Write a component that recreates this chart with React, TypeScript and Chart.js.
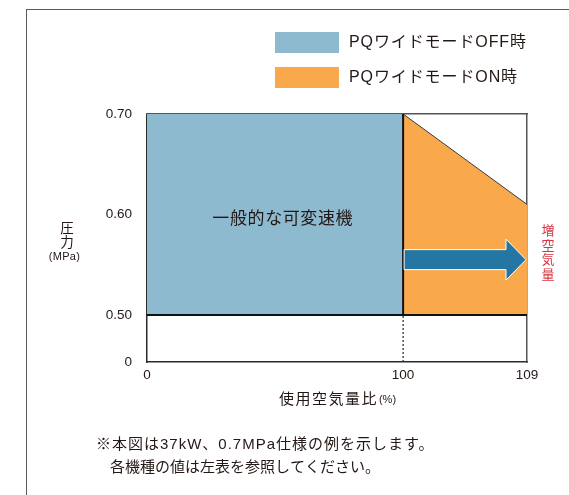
import React, { useEffect, useRef } from 'react';
import { Chart, registerables, LinearScale } from 'chart.js';

// ---- data ----
const FLOW_TICKS = [0, 100, 109];
const PRESSURE_TICKS = [0, 0.5, 0.6, 0.7];
const PRESSURE_TICK_LABELS = ['0', '0.50', '0.60', '0.70'];

const OFF_FLOW = [0, 100];
const OFF_PRESSURE = [0.7, 0.7];
const ON_FLOW = [100, 109];
const ON_PRESSURE = [0.7, 0.61];
const BASE_PRESSURE = 0.5;
const ARROW_FLOW = [100, 109];
const ARROW_PRESSURE = 0.555;

const SERIES_LABELS = ['PQワイドモードOFF時', 'PQワイドモードON時'];
const SERIES_COLORS = ['#8EBACF', '#F9A84B'];
const AREA_LABEL = '一般的な可変速機';
const AREA_LABEL_AT = { x: 53, y: 0.595 };
const GAIN_LABEL = '増空気量';
const X_TITLE = '使用空気量比';
const X_TITLE_UNIT = '(%)';
const Y_TITLE = ['圧', '力'];
const Y_TITLE_UNIT = '(MPa)';
const NOTES = [
  '※本図は37kW、0.7MPa仕様の例を示します。',
  '各機種の値は左表を参照してください。',
];

// ---- styling ----
const FONT = "'Liberation Sans', 'Noto Sans CJK JP', sans-serif";
const INK = '#231815';
const ARROW_COLOR = '#2577A3';
const GAIN_COLOR = '#D7353F';

// Piecewise-linear axes: each stop maps a value to a fraction of the axis length,
// so the compressed 0–0.50 MPa band and the 100–109 % band get their own spans.
const AXIS_STOPS: Record<string, [number, number][]> = {
  x: [[0, 0], [100, 0.674], [109, 1]],
  y: [[0, 0], [0.5, 0.19], [0.7, 1]],
};

function mapStops(stops: [number, number][], v: number, from: 0 | 1, to: 0 | 1) {
  let i = 0;
  while (i < stops.length - 2 && v > stops[i + 1][from]) i++;
  const a = stops[i];
  const b = stops[i + 1];
  const t = (v - a[from]) / (b[from] - a[from]);
  return a[to] + t * (b[to] - a[to]);
}

class SegmentedScale extends LinearScale {
  static id = 'segmented';
  static defaults = { ...(LinearScale as any).defaults };
  getPixelForValue(value: number) {
    if (value === null || value === undefined || isNaN(value)) return NaN;
    const stops = AXIS_STOPS[(this as any).id];
    return this.getPixelForDecimal(mapStops(stops, value, 0, 1));
  }
  getValueForPixel(pixel: number) {
    const stops = AXIS_STOPS[(this as any).id];
    return mapStops(stops, this.getDecimalForPixel(pixel), 1, 0);
  }
}

Chart.register(...registerables, SegmentedScale as any);

function drawText(
  ctx: CanvasRenderingContext2D,
  str: string,
  x: number,
  y: number,
  size: number,
  color: string,
  align: CanvasTextAlign = 'left',
  spacing = 0,
) {
  ctx.save();
  ctx.font = `${size}px ${FONT}`;
  ctx.fillStyle = color;
  ctx.textAlign = align;
  ctx.textBaseline = 'middle';
  (ctx as any).letterSpacing = `${spacing}px`;
  ctx.fillText(str, x, y);
  ctx.restore();
}

function measure(ctx: CanvasRenderingContext2D, str: string, size: number, spacing = 0) {
  ctx.save();
  ctx.font = `${size}px ${FONT}`;
  (ctx as any).letterSpacing = `${spacing}px`;
  const w = ctx.measureText(str).width;
  ctx.restore();
  return w;
}

const arrowPlugin = {
  id: 'gainArrow',
  afterDatasetsDraw(chart: any) {
    const { ctx, scales } = chart;
    const x0 = scales.x.getPixelForValue(ARROW_FLOW[0]) + 1;
    const x1 = scales.x.getPixelForValue(ARROW_FLOW[1]) - 1;
    const yc = scales.y.getPixelForValue(ARROW_PRESSURE);
    const shaft = 10;
    const head = 20.5;
    const headLen = 20;
    ctx.save();
    ctx.beginPath();
    ctx.moveTo(x0, yc - shaft);
    ctx.lineTo(x1 - headLen, yc - shaft);
    ctx.lineTo(x1 - headLen, yc - head);
    ctx.lineTo(x1, yc);
    ctx.lineTo(x1 - headLen, yc + head);
    ctx.lineTo(x1 - headLen, yc + shaft);
    ctx.lineTo(x0, yc + shaft);
    ctx.closePath();
    ctx.fillStyle = ARROW_COLOR;
    ctx.fill();
    ctx.strokeStyle = '#ffffff';
    ctx.lineWidth = 1;
    ctx.stroke();
    ctx.restore();
  },
};

const labelsPlugin = {
  id: 'chartTexts',
  afterDraw(chart: any) {
    const { ctx, scales, chartArea } = chart;

    // legend from the labelled series
    const legendItems = chart.data.datasets.filter((d: any) => d.label);
    legendItems.forEach((d: any, i: number) => {
      const top = 32 + i * 35;
      ctx.save();
      ctx.fillStyle = d.backgroundColor;
      ctx.fillRect(275, top, 64, 21);
      ctx.restore();
      drawText(ctx, d.label, 349, top + 10.5, 16, INK, 'left', 0.9);
    });

    // label inside the base region
    drawText(
      ctx,
      AREA_LABEL,
      scales.x.getPixelForValue(AREA_LABEL_AT.x),
      scales.y.getPixelForValue(AREA_LABEL_AT.y),
      17,
      INK,
      'center',
      0.6,
    );

    // vertical red caption next to the arrow
    const gx = chartArea.right + 21;
    const gy = scales.y.getPixelForValue(ARROW_PRESSURE) - 28;
    Array.from(GAIN_LABEL).forEach((ch, i) => {
      drawText(ctx, ch, gx, gy + i * 14.5, 13, GAIN_COLOR, 'center');
    });

    // y-axis title
    const yx = chartArea.left - 80;
    Y_TITLE.forEach((ch, i) => drawText(ctx, ch, yx, 229 + i * 14, 13.5, INK, 'center'));
    drawText(ctx, Y_TITLE_UNIT, yx - 2.5, 257, 11, INK, 'center', 0.3);

    // x-axis title
    const mainW = measure(ctx, X_TITLE, 15, 1.5);
    const unitW = measure(ctx, X_TITLE_UNIT, 11);
    const cx = (chartArea.left + chartArea.right) / 2;
    const tx = cx - (mainW + unitW) / 2;
    const ty = chartArea.bottom + 38;
    drawText(ctx, X_TITLE, tx, ty, 15, INK, 'left', 1.5);
    drawText(ctx, X_TITLE_UNIT, tx + mainW + 1, ty, 11, INK, 'left');

    // notes
    drawText(ctx, NOTES[0], 96, 445, 15, INK, 'left', 1);
    drawText(ctx, NOTES[1], 110, 468, 15, INK, 'left', 0);
  },
};

const pt = (xs: number[], ys: number[]) => xs.map((x, i) => ({ x, y: ys[i] }));

export default function App() {
  const canvasRef = useRef<HTMLCanvasElement | null>(null);

  useEffect(() => {
    if (!canvasRef.current) return;
    const lineBase = {
      type: 'line' as const,
      pointRadius: 0,
      fill: false,
      tension: 0,
      order: 1,
    };
    const chart = new Chart(canvasRef.current, {
      type: 'line',
      data: {
        datasets: [
          {
            label: SERIES_LABELS[0],
            data: pt(OFF_FLOW, OFF_PRESSURE),
            backgroundColor: SERIES_COLORS[0],
            borderColor: 'rgba(0,0,0,0)',
            borderWidth: 1,
            pointRadius: 0,
            fill: { value: BASE_PRESSURE },
            order: 2,
          },
          {
            label: SERIES_LABELS[1],
            data: pt(ON_FLOW, ON_PRESSURE),
            backgroundColor: SERIES_COLORS[1],
            borderColor: '#3a3a3a',
            borderWidth: 1,
            pointRadius: 0,
            fill: { value: BASE_PRESSURE },
            order: 2,
          },
          {
            ...lineBase,
            data: pt([FLOW_TICKS[0], FLOW_TICKS[2]], [BASE_PRESSURE, BASE_PRESSURE]),
            borderColor: '#111111',
            borderWidth: 2,
          },
          {
            ...lineBase,
            data: pt([FLOW_TICKS[1], FLOW_TICKS[1]], [BASE_PRESSURE, OFF_PRESSURE[1]]),
            borderColor: '#111111',
            borderWidth: 2,
          },
          {
            ...lineBase,
            data: pt([FLOW_TICKS[1], FLOW_TICKS[1]], [PRESSURE_TICKS[0], BASE_PRESSURE]),
            borderColor: '#222222',
            borderWidth: 1.2,
            borderDash: [2, 2],
          },
        ] as any,
      },
      options: {
        animation: false,
        responsive: false,
        maintainAspectRatio: false,
        layout: { padding: { left: 0, right: 42, top: 114, bottom: 0 } },
        plugins: {
          legend: { display: false },
          tooltip: { enabled: false },
        },
        scales: {
          x: {
            type: 'segmented' as any,
            position: 'bottom',
            min: FLOW_TICKS[0],
            max: FLOW_TICKS[FLOW_TICKS.length - 1],
            z: 1,
            grid: { display: false, drawTicks: false },
            border: { display: true, color: '#2b2b2b', width: 1.5 },
            afterBuildTicks: (s: any) => {
              s.ticks = FLOW_TICKS.map((value) => ({ value }));
            },
            afterFit: (s: any) => {
              s.height = 133;
            },
            ticks: {
              autoSkip: false,
              maxRotation: 0,
              padding: 5,
              color: INK,
              font: { family: FONT, size: 13.5 },
              callback: (v: any) => String(v),
            },
          },
          y: {
            type: 'segmented' as any,
            position: 'left',
            min: PRESSURE_TICKS[0],
            max: PRESSURE_TICKS[PRESSURE_TICKS.length - 1],
            z: 1,
            grid: { display: false, drawTicks: false },
            border: { display: true, color: '#2b2b2b', width: 1.5 },
            afterBuildTicks: (s: any) => {
              s.ticks = PRESSURE_TICKS.map((value) => ({ value }));
            },
            afterFit: (s: any) => {
              s.width = 147;
            },
            ticks: {
              autoSkip: false,
              padding: 15,
              color: INK,
              font: { family: FONT, size: 13.5 },
              callback: (_v: any, i: number) => PRESSURE_TICK_LABELS[i],
            },
          },
          xTop: {
            type: 'linear',
            position: 'top',
            min: 0,
            max: 1,
            z: 1,
            grid: { display: false, drawTicks: false },
            ticks: { display: false },
            border: { display: true, color: '#555555', width: 1.5 },
            afterFit: (s: any) => {
              s.height = 0;
            },
          },
          yRight: {
            type: 'linear',
            position: 'right',
            min: 0,
            max: 1,
            z: 1,
            grid: { display: false, drawTicks: false },
            ticks: { display: false },
            border: { display: true, color: '#555555', width: 1.5 },
            afterFit: (s: any) => {
              s.width = 0;
            },
          },
        } as any,
      },
      plugins: [arrowPlugin, labelsPlugin],
    });
    return () => chart.destroy();
  }, []);

  return (
    <div style={{ position: 'absolute', left: 0, top: 0, width: 569, height: 495, background: '#fff' }}>
      <canvas ref={canvasRef} width={569} height={495} style={{ display: 'block' }} />
      <div
        style={{
          position: 'absolute',
          left: 26,
          top: 9,
          right: 0,
          bottom: 0,
          borderLeft: '1px solid #5a5a5a',
          borderTop: '1px solid #5a5a5a',
          pointerEvents: 'none',
        }}
      />
    </div>
  );
}
